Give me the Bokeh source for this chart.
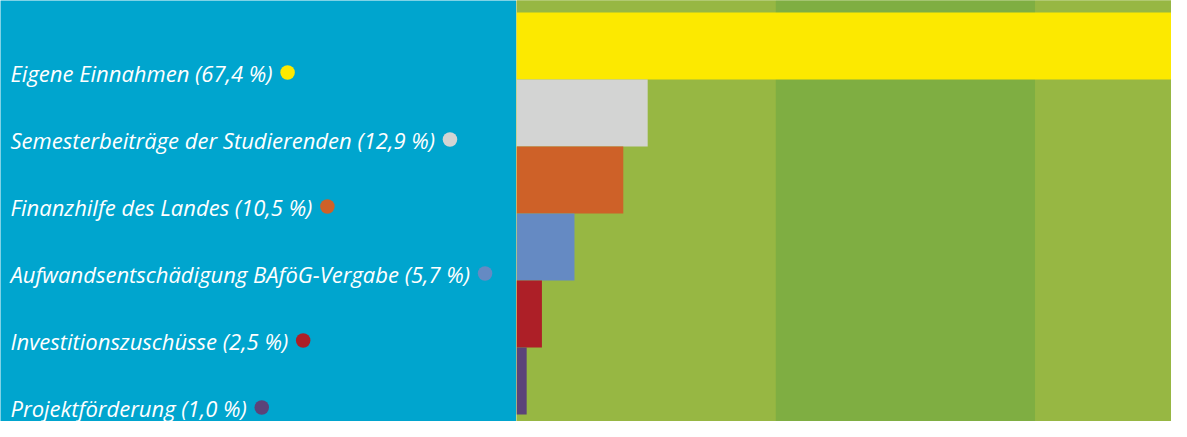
from bokeh.plotting import figure
from bokeh.models import Range1d, ColumnDataSource, CustomJSTransform
from bokeh.transform import transform
from bokeh.layouts import row
from bokeh.embed import file_html
from bokeh.resources import INLINE
from bokeh.core.properties import value

# ---- data ----
categories = [
    "Eigene Einnahmen",
    "Semesterbeiträge der Studierenden",
    "Finanzhilfe des Landes",
    "Aufwandsentschädigung BAföG-Vergabe",
    "Investitionszuschüsse",
    "Projektförderung",
]
shares = [67.4, 12.9, 10.5, 5.7, 2.5, 1.0]
colors = ["#FCE900", "#D3D4D3", "#CE6128", "#658AC3", "#AD1F27", "#5B4379"]
labels = [f"{c} ({str(s).replace('.', ',')} %)" for c, s in zip(categories, shares)]

# ---- style ----
BLUE = "#00A5CE"
GREEN_L = "#97B743"
GREEN_D = "#7FAE42"
band_edges = [0, 25.5, 51, 76.5]
band_colors = [GREEN_L, GREEN_D, GREEN_L]
FONT = "Open Sans"
FSIZE = 22

H = 421
LEFT_W = 516
RIGHT_W = 655
PX_PER_PCT = 10.17
BAR_PX = 67
TOP_PAD = 12

idx = list(range(len(categories)))
y_top = -0.5 - TOP_PAD / BAR_PX
y_bot = y_top + H / BAR_PX
y_range = Range1d(start=y_bot, end=y_top)


def clean(p):
    p.axis.visible = False
    p.grid.visible = False
    p.outline_line_color = None
    p.min_border = 0
    p.min_border_left = 0
    p.min_border_right = 0
    p.min_border_top = 0
    p.min_border_bottom = 0


# ---- left label panel ----
left = figure(width=LEFT_W, height=H, x_range=Range1d(0, LEFT_W), y_range=y_range,
              output_backend="svg", toolbar_location=None, tools="",
              background_fill_color=BLUE, border_fill_color=BLUE)
clean(left)

TEXT_X = 10
DOT_UP = 7.0 / BAR_PX
lab_src = ColumnDataSource(dict(
    x=[TEXT_X] * len(idx),
    y=[i + 0.5 - DOT_UP for i in idx],
    text=labels,
))
left.text(x="x", y="y", text="text", source=lab_src, text_color="white",
          text_font=value(FONT), text_font_style="italic", text_font_size=f"{FSIZE}px",
          text_baseline="middle", text_align="left", y_offset=0)

GAP = 15
dot_src = ColumnDataSource(dict(
    x0=[TEXT_X + GAP] * len(idx),
    y=[i + 0.5 - DOT_UP for i in idx],
    color=colors,
))
measure = CustomJSTransform(args=dict(labels=labels, font=f"italic {FSIZE}px '{FONT}'"), v_func="""
try {
  const ctx = document.createElement('canvas').getContext('2d');
  ctx.font = font;
  return xs.map((x, i) => x + ctx.measureText(labels[i]).width);
} catch (e) {
  return xs.map((x, i) => x + labels[i].length * 10.5);
}
""")
left.scatter(x=transform("x0", measure), y="y", source=dot_src, size=14.5,
             fill_color="color", line_color=None)

# ---- right bar panel ----
right = figure(width=RIGHT_W, height=H, x_range=Range1d(0, RIGHT_W / PX_PER_PCT), y_range=y_range,
               output_backend="svg", toolbar_location=None, tools="",
               background_fill_color=GREEN_L, border_fill_color=GREEN_L)
clean(right)

right.quad(left=band_edges[:-1], right=band_edges[1:], bottom=y_bot + 1, top=y_top - 1,
           fill_color=band_colors, line_color=None)
right.hbar(y=idx, left=0, right=shares, height=1.0, fill_color=colors, line_color=None)

layout = row(left, right, spacing=0)
open("out.html", "w").write(file_html(layout, INLINE))
